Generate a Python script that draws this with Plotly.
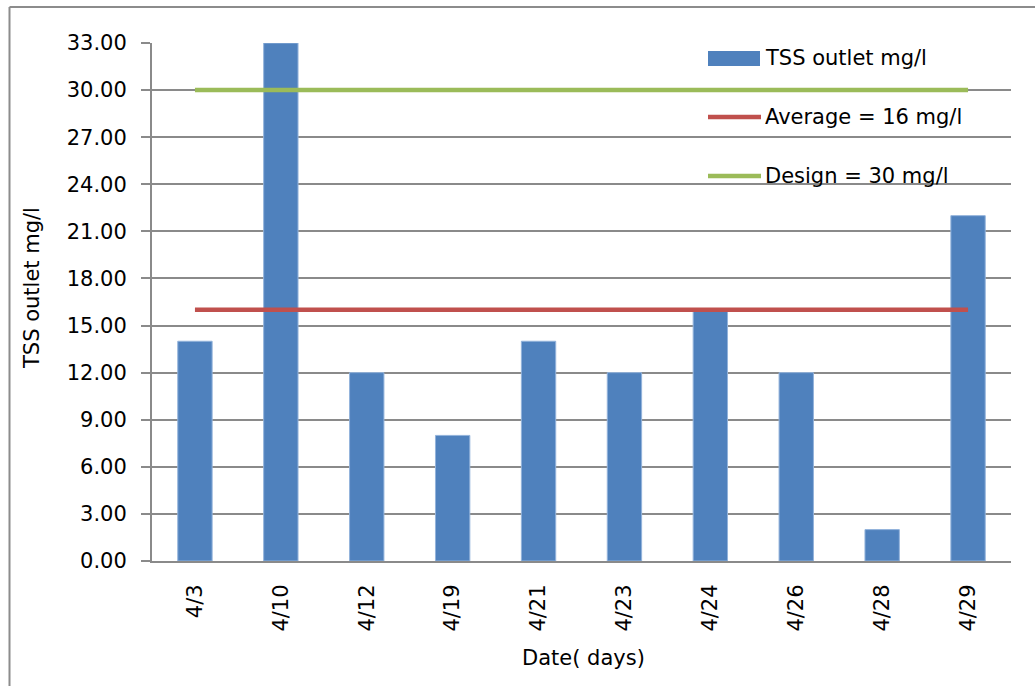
import plotly.graph_objects as go

# Sample dates and measured TSS at the outlet (mg/l)
dates = ["4/3", "4/10", "4/12", "4/19", "4/21", "4/23", "4/24", "4/26", "4/28", "4/29"]
tss_outlet = [14, 33, 12, 8, 14, 12, 16, 12, 2, 22]
average_level = 16
design_level = 30

y_ticks = [0, 3, 6, 9, 12, 15, 18, 21, 24, 27, 30, 33]

W, H = 1035, 686
L, R, T, B = 152, 1011, 43, 561  # plot area in pixels

BLUE = "#4F81BD"
RED = "#C0504D"
GREEN = "#9BBB59"
GRID = "#8a8a8a"
FONT = "DejaVu Sans"
FS = 21


def px_x(x):
    return (x - L) / (R - L)


def px_y(y):
    return (B - y) / (B - T)


fig = go.Figure()

fig.add_trace(go.Bar(
    x=dates, y=tss_outlet, name="TSS outlet mg/l",
    marker=dict(color=BLUE, line=dict(color="#93b3db", width=1)),
    showlegend=False,
))
fig.add_trace(go.Scatter(
    x=dates, y=[average_level] * len(dates), mode="lines",
    name="Average = 16 mg/l", line=dict(color=RED, width=4.5),
    showlegend=False,
))
fig.add_trace(go.Scatter(
    x=dates, y=[design_level] * len(dates), mode="lines",
    name="Design = 30 mg/l", line=dict(color=GREEN, width=4.5),
    showlegend=False,
))

shapes = [
    # outer chart frame (left and top edges)
    dict(type="line", xref="paper", yref="paper",
         x0=px_x(9.5), x1=px_x(9.5), y0=px_y(7), y1=px_y(H + 5),
         line=dict(color="#8c8c8c", width=2)),
    dict(type="line", xref="paper", yref="paper",
         x0=px_x(9.5), x1=px_x(W + 5), y0=px_y(7), y1=px_y(7),
         line=dict(color="#8c8c8c", width=2)),
    # legend keys
    dict(type="rect", xref="paper", yref="paper",
         x0=px_x(708), x1=px_x(760), y0=px_y(66), y1=px_y(51),
         fillcolor=BLUE, line=dict(width=0)),
    dict(type="line", xref="paper", yref="paper",
         x0=px_x(708), x1=px_x(761), y0=px_y(117), y1=px_y(117),
         line=dict(color=RED, width=4.5)),
    dict(type="line", xref="paper", yref="paper",
         x0=px_x(708), x1=px_x(761), y0=px_y(176), y1=px_y(176),
         line=dict(color=GREEN, width=4.5)),
]

legend_items = [("TSS outlet mg/l", 58), ("Average = 16 mg/l", 117), ("Design = 30 mg/l", 176)]
annotations = [
    dict(text=txt, xref="paper", yref="paper", x=px_x(763), y=px_y(yy),
         xanchor="left", yanchor="middle", showarrow=False,
         font=dict(family=FONT, size=FS, color="black"))
    for txt, yy in legend_items
]
annotations.append(dict(
    text="TSS outlet mg/l", xref="paper", yref="paper", x=px_x(32), y=px_y(288),
    xanchor="center", yanchor="middle", textangle=-90, showarrow=False,
    font=dict(family=FONT, size=FS, color="black")))
annotations.append(dict(
    text="Date( days)", xref="paper", yref="paper", x=px_x(583), y=px_y(658),
    xanchor="center", yanchor="middle", showarrow=False,
    font=dict(family=FONT, size=FS, color="black")))

fig.update_layout(
    width=W, height=H,
    margin=dict(l=L, r=W - R, t=T, b=H - B, pad=0),
    paper_bgcolor="white", plot_bgcolor="white",
    bargap=0.6,
    showlegend=False,
    shapes=shapes,
    annotations=annotations,
    font=dict(family=FONT, size=FS, color="black"),
    xaxis=dict(
        type="category", tickangle=-90, showgrid=False, zeroline=False,
        showline=True, linecolor=GRID, linewidth=2, ticks="",
        ticklabelstandoff=13,
        tickfont=dict(family=FONT, size=FS, color="black"),
    ),
    yaxis=dict(
        range=[0, 33], tickvals=y_ticks, tickformat=".2f",
        showgrid=True, gridcolor=GRID, gridwidth=1.5, zeroline=False,
        showline=True, linecolor=GRID, linewidth=2,
        ticks="outside", ticklen=9, tickcolor=GRID, tickwidth=1.5,
        ticklabelstandoff=10,
        tickfont=dict(family=FONT, size=FS, color="black"),
    ),
)

fig.write_html("out.html")
